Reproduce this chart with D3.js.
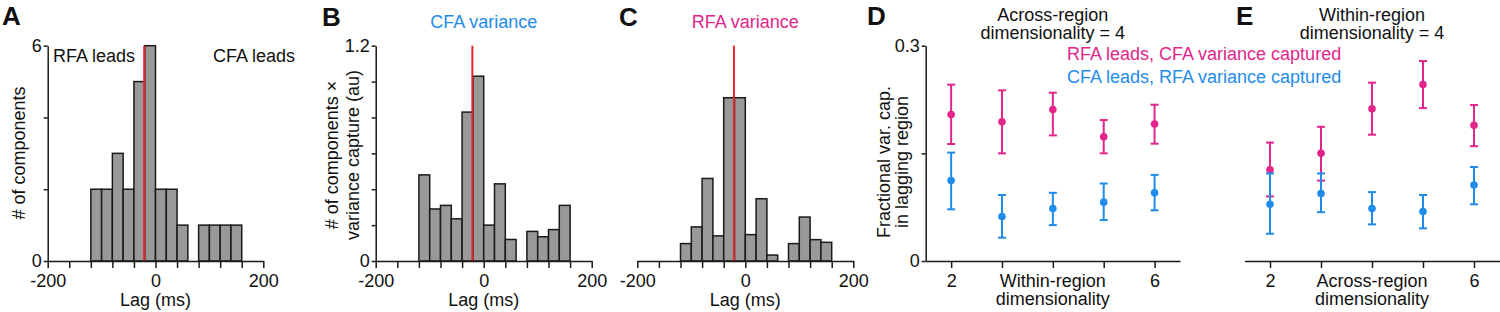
<!DOCTYPE html>
<html><head><meta charset="utf-8">
<script src="https://cdn.jsdelivr.net/npm/d3@7"></script>
<style>
body{margin:0;background:#fff;}
svg{display:block;font-family:"Liberation Sans",Arial,sans-serif;}
</style></head>
<body><svg id="c" width="1500" height="312"></svg>
<script>
// ---- data ----
const binStarts = [-120,-100,-80,-60,-40,-20,0,20,40,60,80,100,120,140];
const binWidth = 20;
const countsA = [2,2,3,2,5,6,2,2,1,0,1,1,1,1];
const cfaVarB = [0.48,0.29,0.31,0.235,0.83,1.03,0.20,0.43,0.12,0,0.165,0.135,0.175,0.31];
const rfaVarC = [0.097,0.19,0.46,0.14,0.91,0.91,0.147,0.347,0.033,0,0.097,0.245,0.119,0.104];
const medianLag = -21;
const lagTicks = [-200,-160,-120,-80,-40,0,40,80,120,160,200];
const lagLabels = [-200,0,200];

const dims = [2,3,4,5,6];
const dRfaMean = [0.204,0.194,0.211,0.173,0.191];
const dRfaLo   = [0.163,0.150,0.175,0.150,0.1635];
const dRfaHi   = [0.2457,0.2378,0.2345,0.1964,0.2178];
const dCfaMean = [0.112,0.062,0.073,0.082,0.095];
const dCfaLo   = [0.072,0.0325,0.050,0.057,0.0706];
const dCfaHi   = [0.151,0.092,0.095,0.108,0.120];
const eRfaMean = [0.127,0.150,0.212,0.246,0.189];
const eRfaLo   = [0.090,0.112,0.176,0.213,0.160];
const eRfaHi   = [0.165,0.187,0.2485,0.2786,0.2173];
const eCfaMean = [0.079,0.094,0.073,0.069,0.106];
const eCfaLo   = [0.038,0.068,0.051,0.0455,0.079];
const eCfaHi   = [0.122,0.122,0.096,0.092,0.131];

const MAG = "#e3258b", BLUE = "#1f8ceb", RED = "#e3242b";
const FS = 18;
const svg = d3.select("#c");
const plotTop = 45.7, plotBot = 261;

function styleAxis(g){
  g.selectAll("path,line").attr("stroke","#1a1a1a").attr("stroke-width",1.5);
  g.selectAll("text").attr("font-size",FS).attr("fill","#111").attr("font-family","Liberation Sans, Arial, sans-serif");
}
function txt(x,y,s,opt={}){
  const t = svg.append("text").attr("x",x).attr("y",y).text(s)
    .attr("font-size",opt.size||FS).attr("fill",opt.fill||"#111")
    .attr("text-anchor",opt.anchor||"middle");
  if(opt.bold) t.attr("font-weight","bold");
  if(opt.rot!==undefined) t.attr("transform",`rotate(${opt.rot},${x},${y})`);
  return t;
}

function histPanel(x0,x1,yMax,vals,yTickVals,yLabels,showY){
  const x = d3.scaleLinear().domain([-200,200]).range([x0,x1]);
  const y = d3.scaleLinear().domain([0,yMax]).range([plotBot,plotTop]);
  const g = svg.append("g");
  g.selectAll("rect").data(binStarts.map((b,i)=>({b,v:vals[i]})).filter(d=>d.v>0))
    .join("rect")
    .attr("x",d=>x(d.b)).attr("width",d=>x(d.b+binWidth)-x(d.b))
    .attr("y",d=>y(d.v)).attr("height",d=>y(0)-y(d.v))
    .attr("fill","#999").attr("stroke","#1a1a1a").attr("stroke-width",1.5);
  g.append("line").attr("x1",x(medianLag)).attr("x2",x(medianLag))
    .attr("y1",y(0)).attr("y2",y(yMax)).attr("stroke",RED).attr("stroke-width",2);
  const ax = svg.append("g").attr("transform",`translate(0,${plotBot})`)
    .call(d3.axisBottom(x).tickValues(lagTicks).tickSize(7).tickPadding(6).tickSizeOuter(0)
      .tickFormat(d=>lagLabels.includes(d)?String(d):""));
  styleAxis(ax);
  if(showY){
    const ay = svg.append("g").attr("transform",`translate(${x0},0)`)
      .call(d3.axisLeft(y).tickValues(yTickVals).tickSize(4).tickPadding(2).tickSizeOuter(0)
        .tickFormat(d=>yLabels.includes(d)?String(d):""));
    styleAxis(ay);
  }
  txt((x0+x1)/2, 306, "Lag (ms)");
  return x;
}

// Panel A
histPanel(47.7,263.3,6,countsA,[0,2,4,6],[0,6],true);
txt(2,25,"A",{size:26,bold:true,anchor:"start"});
txt(53,62,"RFA leads",{anchor:"start"});
txt(213,62,"CFA leads",{anchor:"start"});
txt(25,153,"# of components",{rot:-90});

// Panel B
const xB = histPanel(375.7,591.7,1.2,cfaVarB,[0,0.2,0.4,0.6,0.8,1.0,1.2],[0,1.2],true);
txt(322,26,"B",{size:26,bold:true,anchor:"start"});
txt(xB(0),28,"CFA variance",{fill:BLUE});
txt(338,155,"# of components \u00d7",{rot:-90});
txt(359,155,"variance capture (au)",{rot:-90});

// Panel C
const xC = histPanel(637.3,853.3,1.2,rfaVarC,[],[],false);
txt(619,26,"C",{size:26,bold:true,anchor:"start"});
txt(xC(0),28,"RFA variance",{fill:MAG});

// Dot panels
function dotPanel(x0,x1,series,showY,xl1,xl2){
  const x = d3.scaleLinear().domain([1.5,6.5]).range([x0,x1]);
  const y = d3.scaleLinear().domain([0,0.3]).range([plotBot,plotTop]);
  series.forEach(s=>{
    const g = svg.append("g");
    const data = dims.map((d,i)=>({d,m:s.mean[i],lo:s.lo[i],hi:s.hi[i]}));
    g.selectAll("line.v").data(data).join("line").attr("class","v")
      .attr("x1",d=>x(d.d)).attr("x2",d=>x(d.d)).attr("y1",d=>y(d.lo)).attr("y2",d=>y(d.hi))
      .attr("stroke",s.color).attr("stroke-width",2);
    ["lo","hi"].forEach(k=>{
      g.selectAll("line."+k).data(data).join("line").attr("class",k)
        .attr("x1",d=>x(d.d)-4).attr("x2",d=>x(d.d)+4).attr("y1",d=>y(d[k])).attr("y2",d=>y(d[k]))
        .attr("stroke",s.color).attr("stroke-width",2);
    });
    g.selectAll("circle").data(data).join("circle")
      .attr("cx",d=>x(d.d)).attr("cy",d=>y(d.m)).attr("r",3.8).attr("fill",s.color);
  });
  const ax = svg.append("g").attr("transform",`translate(0,${plotBot})`)
    .call(d3.axisBottom(x).tickValues(dims).tickSize(7).tickPadding(6).tickSizeOuter(0)
      .tickFormat(d=>(d===2||d===6)?String(d):""));
  styleAxis(ax);
  if(showY){
    const ay = svg.append("g").attr("transform",`translate(${x0},0)`)
      .call(d3.axisLeft(y).tickValues([0,0.15,0.3]).tickSize(4).tickPadding(2).tickSizeOuter(0)
        .tickFormat(d=>d===0?"0":d===0.3?"0.3":""));
    styleAxis(ay);
  }
  txt(x(4),287,xl1);
  txt(x(4),305,xl2);
  return x;
}

const xD = dotPanel(925.7,1180,[
  {mean:dRfaMean,lo:dRfaLo,hi:dRfaHi,color:MAG},
  {mean:dCfaMean,lo:dCfaLo,hi:dCfaHi,color:BLUE}],true,"Within-region","dimensionality");
txt(867,25,"D",{size:26,bold:true,anchor:"start"});
txt(xD(4),20.5,"Across-region");
txt(xD(4),39,"dimensionality = 4");
txt(890,162,"Fractional var. cap.",{rot:-90});
txt(908,162,"in lagging region",{rot:-90});
txt(1067,59.5,"RFA leads, CFA variance captured",{anchor:"start",fill:MAG});
txt(1067,83,"CFA leads, RFA variance captured",{anchor:"start",fill:BLUE});

const xE = dotPanel(1244.5,1499.5,[
  {mean:eRfaMean,lo:eRfaLo,hi:eRfaHi,color:MAG},
  {mean:eCfaMean,lo:eCfaLo,hi:eCfaHi,color:BLUE}],false,"Across-region","dimensionality");
txt(1236,25,"E",{size:26,bold:true,anchor:"start"});
txt(xE(4),20.5,"Within-region");
txt(xE(4),39,"dimensionality = 4");
</script></body></html>
